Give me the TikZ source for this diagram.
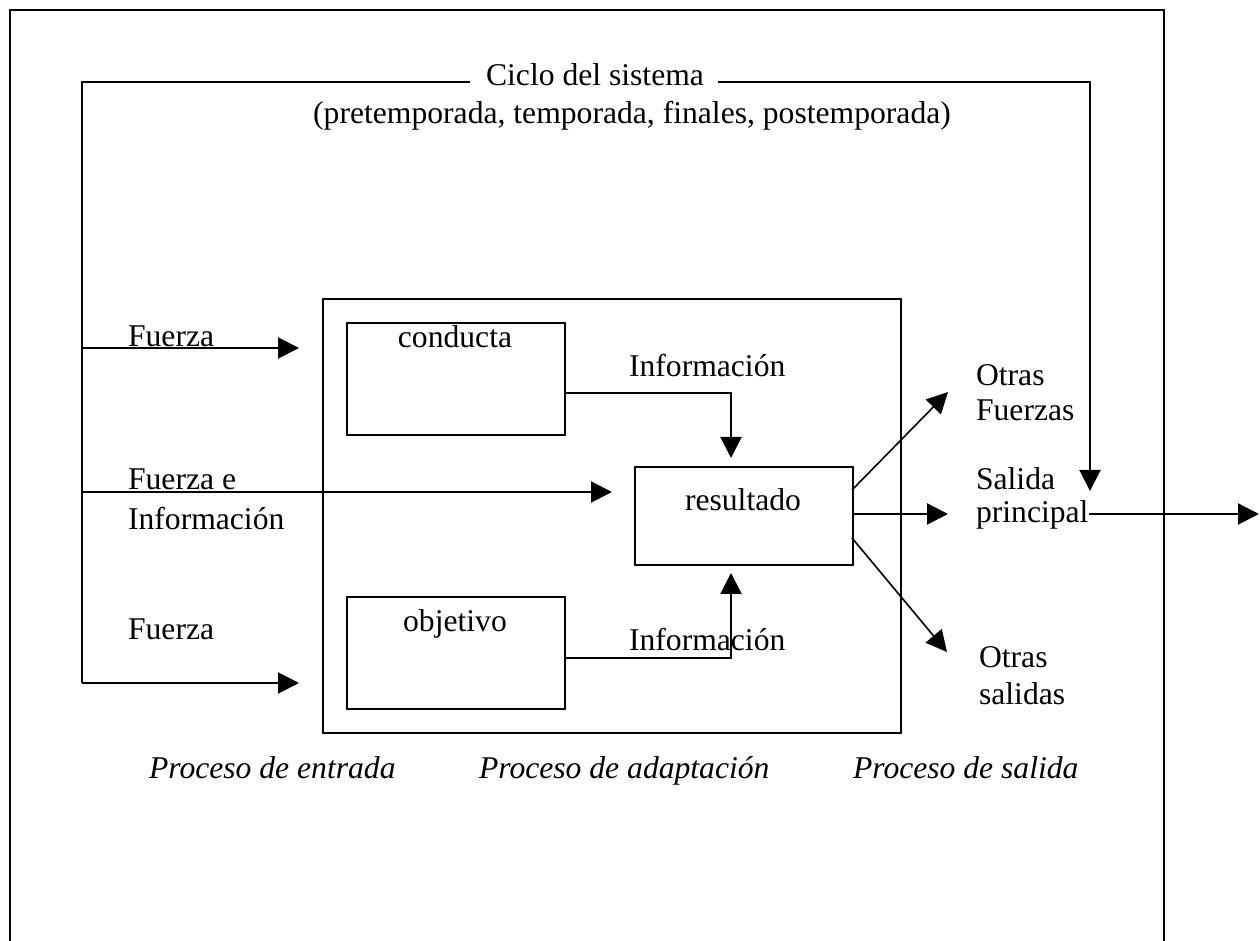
\documentclass[tikz,border=0pt]{standalone}
\usepackage{fontspec}
\setmainfont{Liberation Serif}
\usetikzlibrary{arrows.meta}

\begin{document}
\begin{tikzpicture}[x=0.1mm, y=-0.1mm, line width=0.6pt, >={Triangle[length=2.1mm,width=2.1mm]}]
	\tikzset{box/.style={draw, anchor=north west, inner sep=0pt}}
	\tikzset{txt/.style={inner sep=0pt, anchor=base, font=\fontsize{9}{10.5}\selectfont}}
	\tikzset{ltxt/.style={txt, anchor=base west}}
	\tikzset{proc/.style={ltxt, font=\fontsize{9}{10.5}\selectfont\itshape}}
	\useasboundingbox (0,0) rectangle (1260,941);
	\draw (10,941) -- (10,10) -- (1164,10) -- (1164,941);
	\node[box, minimum width=57.8mm, minimum height=43.4mm] (sistema) at (322,298) {};
	\node[box, minimum width=21.8mm, minimum height=11.2mm] (conducta) at (346,322) {};
	\node[box, minimum width=21.8mm, minimum height=11.2mm] (objetivo) at (346,596) {};
	\node[box, minimum width=21.8mm, minimum height=9.8mm] (resultado) at (634,466) {};
	\node[txt] (ciclo) at (595,86) {Ciclo del sistema};
	\node[txt] (fases) at (632,124) {(pretemporada, temporada, finales, postemporada)};
	\node[txt] (tconducta) at (455,348) {conducta};
	\node[txt] (tobjetivo) at (455,632) {objetivo};
	\node[txt] (tresultado) at (743,511) {resultado};
	\node[ltxt] (fuerza1) at (127,347) {Fuerza};
	\node[ltxt] (fuerza2) at (127,490) {Fuerza e};
	\node[ltxt] (info2) at (127,530) {Información};
	\node[ltxt] (fuerza3) at (127,640) {Fuerza};
	\node[ltxt] (info1) at (628,377) {Información};
	\node[ltxt] (info3) at (628,651) {Información};
	\node[ltxt] (otras1) at (975,386) {Otras};
	\node[ltxt] (fuerzas) at (975,421) {Fuerzas};
	\node[ltxt] (salida) at (975,490) {Salida};
	\node[ltxt] (principal) at (975,523) {principal};
	\node[ltxt] (otras2) at (978,668) {Otras};
	\node[ltxt] (salidas) at (978,705) {salidas};
	\node[proc] (entrada) at (148,779) {Proceso de entrada};
	\node[proc] (adaptacion) at (478,779) {Proceso de adaptación};
	\node[proc] (psalida) at (852,779) {Proceso de salida};
	\coordinate (izq) at (82,82);
	\coordinate (c1) at (470,82);
	\coordinate (c2) at (718,82);
	\coordinate (der) at (1090,82);
	\coordinate (e1) at (82,348);
	\coordinate (e2) at (82,492);
	\coordinate (e3) at (82,683);
	\coordinate (i1) at (564,393);
	\coordinate (i2) at (564,658);
	\coordinate (r1) at (731,466);
	\coordinate (r2) at (731,564);
	\coordinate (s1) at (852,490);
	\coordinate (s2) at (852,514);
	\coordinate (s3) at (852,538);
	\coordinate (o1) at (948,392);
	\coordinate (o2) at (948,514);
	\coordinate (o3) at (947,652);
	\coordinate (p1) at (1089,514);
	\coordinate (p2) at (1259,514);
	\draw (c1) -- (izq) -- (e3);
	\draw[->] (c2) -- (der) -- (1090,491);
	\draw[->, shorten >=2.3mm] (e1) -- (e1 -| sistema.west);
	\draw[->, shorten >=2.2mm] (e2) -- (e2 -| resultado.west);
	\draw[->, shorten >=2.3mm] (e3) -- (e3 -| sistema.west);
	\draw[->, shorten >=0.8mm] (i1) -| (r1);
	\draw[->, shorten >=0.9mm] (i2) -| (r2);
	\draw[->, line width=0.45pt] (s1) -- (o1);
	\draw[->] (s2) -- (o2);
	\draw[->, line width=0.45pt] (s3) -- (o3);
	\draw[->] (p1) -- (p2);
\end{tikzpicture}
\end{document}
